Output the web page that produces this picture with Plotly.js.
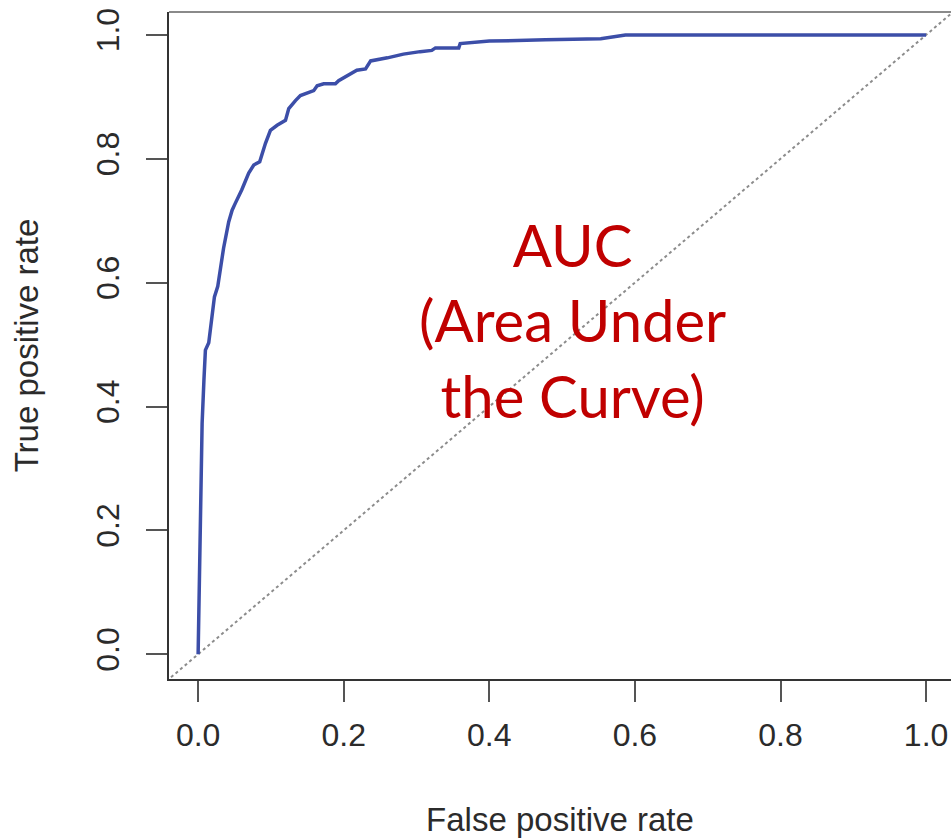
<!DOCTYPE html>
<html>
<head>
<meta charset="utf-8">
<script src="https://cdn.plot.ly/plotly-3.0.1.min.js"></script>
<style>html,body{margin:0;padding:0;background:#fff;}#chart{width:951px;height:839px;}</style>
</head>
<body>
<div id="chart"></div>
<script>
// ROC curve
const fpr = [0, 0.002, 0.0036, 0.0055, 0.008, 0.010, 0.0146, 0.018, 0.0224, 0.027, 0.0306, 0.035, 0.042, 0.0467, 0.051, 0.060, 0.0695, 0.0764, 0.0846, 0.0925, 0.0993, 0.1085, 0.120, 0.1245, 0.1337, 0.1405, 0.1588, 0.1635, 0.1725, 0.1886, 0.193, 0.209, 0.218, 0.230, 0.237, 0.260, 0.282, 0.305, 0.321, 0.326, 0.358, 0.360, 0.400, 0.477, 0.553, 0.587, 0.70, 0.85, 1.0];
const tpr = [0, 0.174, 0.309, 0.373, 0.443, 0.491, 0.503, 0.540, 0.577, 0.594, 0.626, 0.656, 0.698, 0.717, 0.728, 0.750, 0.777, 0.790, 0.795, 0.825, 0.846, 0.854, 0.862, 0.881, 0.894, 0.902, 0.910, 0.918, 0.921, 0.921, 0.926, 0.936, 0.943, 0.945, 0.958, 0.963, 0.969, 0.973, 0.975, 0.979, 0.979, 0.986, 0.990, 0.992, 0.994, 1.0, 1.0, 1.0, 1.0];
// chance diagonal (abline y = x) across the whole panel
const diagX = [-0.1, 1.1];
const diagY = [-0.1, 1.1];
const tickVals = [0, 0.2, 0.4, 0.6, 0.8, 1.0];
const tickText = ['0.0', '0.2', '0.4', '0.6', '0.8', '1.0'];
const xTitle = 'False positive rate';
const yTitle = 'True positive rate';
const auLabel = 'AUC<br>(Area Under<br>the Curve)';

const axisFont = {family: 'Liberation Sans, Arial, Helvetica, sans-serif', size: 32, color: '#2b2b2b'};

const traces = [
  {x: diagX, y: diagY, mode: 'lines', line: {color: '#8c8c8c', width: 2, dash: 'dot'}, hoverinfo: 'skip'},
  {x: fpr, y: tpr, mode: 'lines', line: {color: '#3c4ea8', width: 3.5}, hoverinfo: 'skip'}
];

const layout = {
  width: 951, height: 839,
  margin: {l: 169, r: 0, t: 12, b: 160, pad: 0},
  paper_bgcolor: '#ffffff', plot_bgcolor: '#ffffff',
  showlegend: false,
  xaxis: {
    range: [-0.04, 1.0342], showgrid: false, zeroline: false,
    showline: true, linecolor: '#333', linewidth: 2,
    ticks: 'outside', ticklen: 21, tickwidth: 2, tickcolor: '#555',
    tickvals: tickVals, ticktext: tickText, tickfont: axisFont,
    ticklabelstandoff: 6,
    title: {text: xTitle, font: {family: axisFont.family, size: 33, color: '#2b2b2b'}, standoff: 55}
  },
  yaxis: {
    range: [-0.04, 1.037], showgrid: false, zeroline: false,
    showline: true, linecolor: '#333', linewidth: 2,
    ticks: 'outside', ticklen: 21, tickwidth: 2, tickcolor: '#555',
    tickvals: tickVals, ticktext: tickText, tickfont: axisFont, tickangle: -90,
    ticklabelstandoff: 14,
    title: {text: yTitle, font: {family: axisFont.family, size: 33, color: '#2b2b2b'}, standoff: 42}
  },
  shapes: [
    {type: 'line', xref: 'paper', yref: 'paper', x0: 0, x1: 1, y0: 1, y1: 1, line: {color: '#8a8a8a', width: 2}}
  ],
  annotations: [
    {x: 0.514, y: 0.54, xref: 'x', yref: 'y', text: auLabel, showarrow: false,
     xanchor: 'center', yanchor: 'middle', align: 'center',
     font: {family: 'Lato, Open Sans, sans-serif', size: 58, color: '#c00000'}}
  ]
};

Plotly.newPlot('chart', traces, layout, {displayModeBar: false, staticPlot: true});
</script>
</body>
</html>
